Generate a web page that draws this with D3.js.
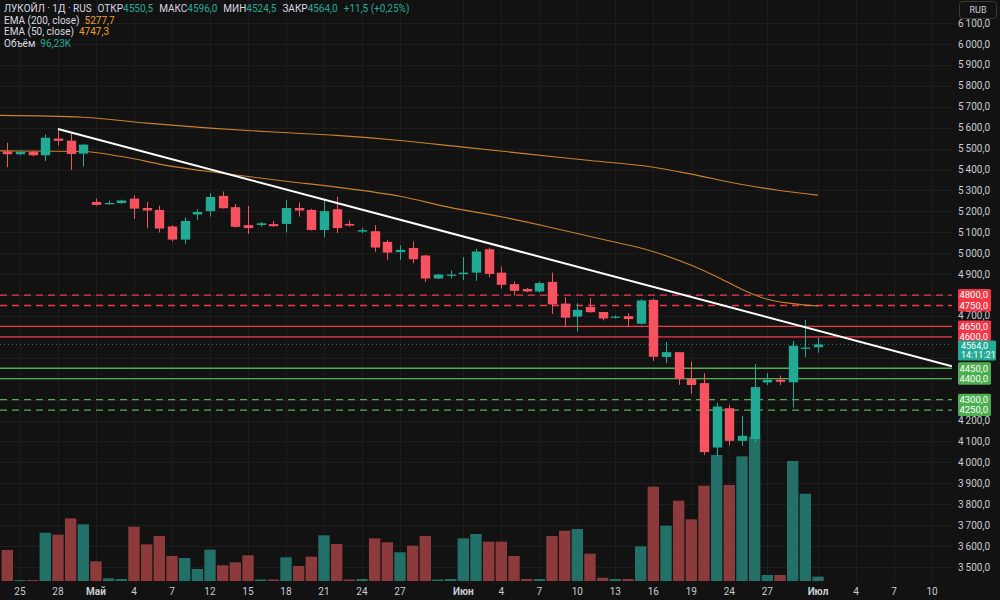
<!DOCTYPE html>
<html>
<head>
<meta charset="utf-8">
<script src="https://cdn.jsdelivr.net/npm/d3@7"></script>
<style>
  body { margin: 0; background: #121212; }
  svg { display: block; font-family: Roboto, "Liberation Sans", sans-serif; }
</style>
</head>
<body>
<svg id="chart" width="1000" height="600"></svg>
<script>
// ---- data (one slot = one bar) ----
const opens  = [5487,5473,5485,5468,5548,5538,5476,5245,5234,5240,5261,5216,5207,5128,5065,5185,5201,5274,5220,5134,5135,5139,5140,5216,5207,5111,5210,5140,5103,5105,5054,5005,5025,4989,4879,4892,4900,4907,5019,4907,4852,4829,4817,4863,4759,4697,4743,4719,4692,4699,4663,4777,4504,4527,4399,4379,4071,4259,4103,4112,4382,4395,4383,4543,4550.5];
const highs  = [5528,5490,5490,5568,5594,5570,5521,5261,5252,5256,5277,5245,5227,5134,5171,5210,5287,5295,5235,5226,5149,5154,5254,5242,5212,5254,5270,5156,5121,5134,5063,5038,5057,4992,4901,4917,4981,5021,5027,4936,4866,4834,4864,4907,4790,4761,4785,4719,4703,4713,4780,4783,4576,4527,4482,4427,4286,4275,4222,4471,4427,4415,4581,4681,4596];
const lows   = [5411,5468,5463,5441,5514,5398,5414,5227,5232,5236,5164,5120,5099,5057,5044,5159,5175,5213,5122,5092,5127,5127,5099,5175,5108,5076,5096,5127,5096,5006,4968,4968,4952,4862,4876,4879,4872,4868,4885,4831,4799,4814,4812,4710,4653,4626,4716,4679,4688,4649,4658,4486,4474,4371,4328,4036,4030,4081,4079,4095,4370,4370,4262,4503,4524.5];
const closes = [5473,5485,5468,5552,5537,5474,5519,5231,5240,5252,5213,5204,5118,5065,5154,5197,5269,5215,5126,5120,5143,5129,5216,5204,5111,5201,5120,5132,5110,5027,5003,5016,4971,4879,4898,4898,4907,5008,4901,4849,4820,4817,4857,4755,4692,4729,4718,4688,4697,4685,4774,4505,4527,4398,4370,4049,4267,4103,4127,4360,4395,4385,4558,4549,4564];
// volume, thousands
const volumes = [682,20,20,1063,1019,1379,1247,433,59,44,1195,807,990,550,506,264,689,345,411,565,33,33,521,330,535,1005,814,33,44,939,851,631,777,990,33,44,939,1034,865,865,550,44,44,990,1107,1144,601,73,44,44,763,2075,1217,1767,1357,2097,2772,2112,2743,3175,132,132,2640,1921,96.23];

// last bar legend values
const dayChange = 11.5;
const dayChangePct = 0.25;
const timeLeft = "14:11:21";

// EMA knots [slot, value]
const ema200Slots  = [-1,6,11,16,21,26,31,36,41,46,51,54,58,61,64];
const ema200Values = [5659,5650,5622,5598,5579,5563,5539,5507,5475,5443,5411,5378,5328,5300,5277.7];
const ema50Slots   = [-1,6,9,13,17,22,26,31,35,39,43,48,50,54,56,58,60,62,64];
const ema50Values  = [5489,5486,5462,5415,5382,5344,5316,5272,5218,5174,5122,5052,5025,4942,4888,4827,4780,4759,4747.3];

// drawn trend line (two anchor points)
const trendSlots  = [4, 64];
const trendPrices = [5594, 4630];

// horizontal levels
const redDashed   = [4800, 4750];
const redSolid    = [4650, 4600];
const greenSolid  = [4450, 4400];
const greenDashed = [4300, 4250];
const lastPrice = 4564;

// x axis
const tickSlots  = [1,4,7,10,13,16,19,22,25,28,31,36,39,42,45,48,51,54,57,60,64,67,70,73];
const tickLabels = ["25","28","Май","4","7","12","15","18","21","24","27","Июн","4","7","10","13","16","19","24","27","Июл","4","7","10"];
const monthLabels = ["Май","Июн","Июл"];

// ---- setup ----
const svg = d3.select("#chart");
const paneW = 952, paneH = 582;
const UP = "#22ab94", DOWN = "#f7525f";
const GREEN = "#4caf50", RED = "#f23645";

const x = d3.scaleLinear().domain([0, 64]).range([7.3, 818]);
const y = d3.scaleLinear().domain([3500, 6000]).range([567, 44]);
const yVol = d3.scaleLinear().domain([0, 3200]).range([581, 581 - 3200 / 22]);

const loc = d3.formatLocale({decimal: ",", thousands: "\u2009", grouping: [3], currency: ["", ""]});
const fmtAxis = loc.format(",.1f");
const plain = d3.formatLocale({decimal: ",", thousands: "", grouping: [3], currency: ["", ""]});
const fmtBox = plain.format(".1f");
const fmtPct = plain.format(".2f");

const bars = opens.map((o, i) => ({i, o, h: highs[i], l: lows[i], c: closes[i], v: volumes[i], up: closes[i] >= o}));

svg.append("rect").attr("width", 1000).attr("height", 600).attr("fill", "#121212");

svg.append("defs").append("clipPath").attr("id", "pane")
  .append("rect").attr("width", paneW).attr("height", paneH);

// grid
const grid = svg.append("g").attr("stroke", "#1d1d1d").attr("stroke-width", 1);
const priceTicks = d3.range(3500, 6101, 100);
grid.selectAll(".h").data(priceTicks).enter().append("line")
  .attr("x1", 0).attr("x2", paneW)
  .attr("y1", d => Math.round(y(d)) + 0.5).attr("y2", d => Math.round(y(d)) + 0.5);
grid.selectAll(".v").data(tickSlots).enter().append("line")
  .attr("x1", d => Math.round(x(d)) + 0.5).attr("x2", d => Math.round(x(d)) + 0.5)
  .attr("y1", 0).attr("y2", paneH);

const pane = svg.append("g").attr("clip-path", "url(#pane)");

// volume
pane.selectAll(".vol").data(bars).enter().append("rect")
  .attr("x", d => x(d.i) - 5.7)
  .attr("width", 11.4)
  .attr("y", d => yVol(d.v))
  .attr("height", d => Math.max(1, yVol(0) - yVol(d.v)))
  .attr("fill", d => d.up ? "#227068" : "#8c3a3b");

// levels
function level(values, color, dash) {
  pane.selectAll(null).data(values).enter().append("line")
    .attr("x1", 0).attr("x2", paneW)
    .attr("y1", d => y(d)).attr("y2", d => y(d))
    .attr("stroke", color).attr("stroke-width", 1.3)
    .attr("stroke-dasharray", dash);
}
level(redDashed, RED, "7,5");
level(redSolid, RED, null);
level(greenSolid, GREEN, null);
level(greenDashed, GREEN, "7,5");

pane.append("line")
  .attr("x1", 0).attr("x2", paneW)
  .attr("y1", y(lastPrice)).attr("y2", y(lastPrice))
  .attr("stroke", UP).attr("stroke-opacity", 0.7)
  .attr("stroke-dasharray", "1,3");

// EMAs
const emaLine = d3.line().x(d => x(d[0])).y(d => y(d[1])).curve(d3.curveMonotoneX);
pane.append("path")
  .datum(d3.zip(ema200Slots, ema200Values))
  .attr("fill", "none").attr("stroke", "#c9822a").attr("stroke-width", 1.1)
  .attr("d", emaLine);
pane.append("path")
  .datum(d3.zip(ema50Slots, ema50Values))
  .attr("fill", "none").attr("stroke", "#c9822a").attr("stroke-width", 1.1)
  .attr("d", emaLine);

// candles
const candle = pane.selectAll(".candle").data(bars).enter().append("g");
candle.append("line")
  .attr("x1", d => Math.round(x(d.i)) + 0.5).attr("x2", d => Math.round(x(d.i)) + 0.5)
  .attr("y1", d => y(d.h)).attr("y2", d => y(d.l))
  .attr("stroke", d => d.up ? UP : DOWN).attr("stroke-width", 1);
candle.append("rect")
  .attr("x", d => Math.round(x(d.i)) + 0.5 - 4.7)
  .attr("width", 9.4)
  .attr("y", d => y(Math.max(d.o, d.c)))
  .attr("height", d => Math.max(1.2, Math.abs(y(d.o) - y(d.c))))
  .attr("fill", d => d.up ? UP : DOWN);

// trend line, extended to the right edge of the pane
const tx0 = x(trendSlots[0]), ty0 = y(trendPrices[0]);
const slope = (y(trendPrices[1]) - ty0) / (x(trendSlots[1]) - tx0);
pane.append("line")
  .attr("x1", tx0).attr("y1", ty0)
  .attr("x2", paneW).attr("y2", ty0 + slope * (paneW - tx0))
  .attr("stroke", "#ffffff").attr("stroke-width", 2);

// right price axis (labels hidden under price boxes are skipped)
const boxPrices = [...redDashed, ...redSolid, ...greenSolid, ...greenDashed];
const hidden = d => boxPrices.some(b => Math.abs(y(b) - y(d)) < 7) ||
  (y(d) > y(lastPrice) - 6 && y(d) < y(lastPrice) + 18);
const axisG = svg.append("g").attr("font-size", 10).attr("fill", "#c8cbd2");
axisG.selectAll("text").data(priceTicks.filter(d => !hidden(d))).enter().append("text")
  .attr("x", 990).attr("y", d => y(d)).attr("dy", "0.35em")
  .attr("text-anchor", "end")
  .text(d => fmtAxis(d));

function boxes(values, color) {
  const g = svg.append("g");
  g.selectAll("rect").data(values).enter().append("rect")
    .attr("x", 958).attr("width", 33)
    .attr("y", d => y(d) - 6).attr("height", 12)
    .attr("rx", 1.5)
    .attr("fill", color);
  g.selectAll("text").data(values).enter().append("text")
    .attr("x", 988).attr("y", d => y(d)).attr("dy", "0.35em")
    .attr("text-anchor", "end").attr("font-size", 9.5).attr("fill", "#ffffff")
    .text(d => fmtBox(d));
}
boxes(redDashed, RED);
boxes(redSolid, RED);
boxes(greenSolid, GREEN);
boxes(greenDashed, GREEN);

const lp = svg.append("g");
const lpTop = y(lastPrice) - 4;
lp.append("rect").attr("x", 958).attr("width", 38)
  .attr("y", lpTop).attr("height", 20).attr("rx", 1.5).attr("fill", UP);
lp.append("text").attr("x", 961).attr("y", lpTop + 5).attr("dy", "0.35em")
  .attr("font-size", 9).attr("fill", "#ffffff").text(fmtBox(lastPrice));
lp.append("text").attr("x", 961).attr("y", lpTop + 14.5).attr("dy", "0.35em")
  .attr("font-size", 9).attr("fill", "#ffffff").text(timeLeft);

// currency button
svg.append("rect").attr("x", 959.5).attr("y", 1.5).attr("width", 37).attr("height", 17)
  .attr("rx", 3).attr("fill", "#121212").attr("stroke", "#3a3a3a");
svg.append("text").attr("x", 978).attr("y", 10).attr("dy", "0.35em")
  .attr("text-anchor", "middle").attr("font-size", 9).attr("fill", "#c8cbd2").text("RUB");

// x axis labels
svg.append("g").selectAll("text").data(tickSlots).enter().append("text")
  .attr("x", d => x(d)).attr("y", 591).attr("dy", "0.35em")
  .attr("text-anchor", "middle").attr("font-size", 10)
  .attr("font-weight", (d, i) => monthLabels.includes(tickLabels[i]) ? "bold" : "normal")
  .attr("fill", "#c8cbd2")
  .text((d, i) => tickLabels[i]);

// legend / header
const head = svg.append("g").attr("font-size", 10).attr("fill", "#d8dae0");
const t1 = head.append("text").attr("x", 4).attr("y", 8).attr("dy", "0.35em");
t1.append("tspan").text("ЛУКОЙЛ · 1Д · RUS");
[["ОТКР", opens[64]], ["МАКС", highs[64]], ["МИН", lows[64]], ["ЗАКР", closes[64]]].forEach(([k, v]) => {
  t1.append("tspan").attr("dx", 6).text(k);
  t1.append("tspan").attr("fill", UP).text(fmtBox(v));
});
t1.append("tspan").attr("dx", 6).attr("fill", UP)
  .text("+" + fmtBox(dayChange) + " (+" + fmtPct(dayChangePct) + "%)");

const legendRows = [
  ["EMA (200, close)", fmtBox(ema200Values[ema200Values.length - 1]), "#f0a030"],
  ["EMA (50, close)", fmtBox(ema50Values[ema50Values.length - 1]), "#f0a030"],
  ["Объём", "96,23K", UP]
];
legendRows.forEach((r, k) => {
  const t = head.append("text").attr("x", 4).attr("y", 20 + k * 11.5).attr("dy", "0.35em");
  t.append("tspan").text(r[0]);
  t.append("tspan").attr("dx", 5).attr("fill", r[2]).text(r[1]);
});
</script>
</body>
</html>
